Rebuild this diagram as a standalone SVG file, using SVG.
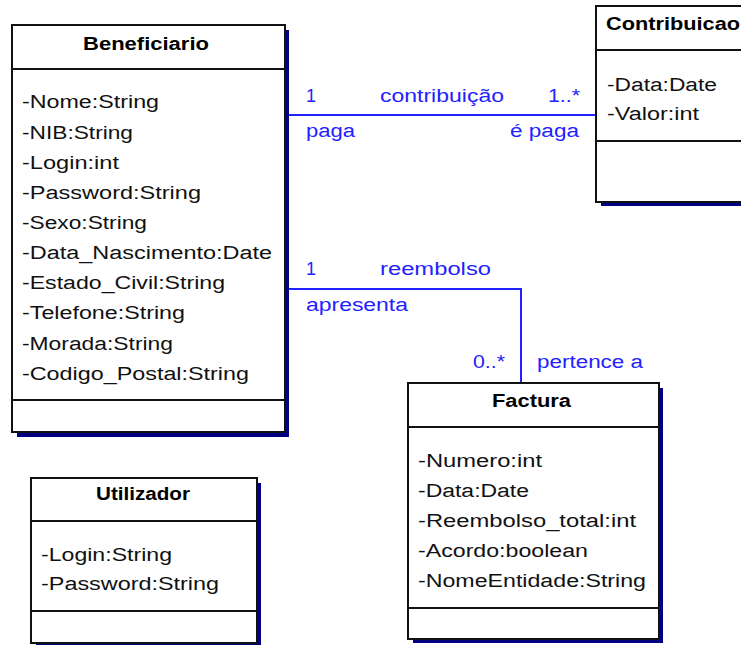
<svg xmlns="http://www.w3.org/2000/svg" width="741" height="645" viewBox="0 0 741 645">
<style>
.box{fill:#fff;stroke:#111;stroke-width:2}
.shadow{fill:#000080}
.div{stroke:#111;stroke-width:2}
.title{font-family:"Liberation Sans",Arial,sans-serif;font-weight:bold;font-size:18px;fill:#000}
.attr{font-family:"Liberation Sans",Arial,sans-serif;font-size:18px;fill:#111}
.lbl{font-family:"Liberation Sans",Arial,sans-serif;font-size:18px;fill:#2222ff}
.conn{fill:none;stroke:#2222ff;stroke-width:2}
</style>
<rect width="741" height="645" fill="#fff"/>
<g id="connectors">
<path class="conn" d="M285 115 H596"/>
<path class="conn" d="M285 289 H521 V383"/>
<text class="lbl" x="306" y="102">1</text>
<text class="lbl" x="380" y="102" textLength="124" lengthAdjust="spacingAndGlyphs">contribuição</text>
<text class="lbl" x="548" y="102" textLength="32" lengthAdjust="spacingAndGlyphs">1..*</text>
<text class="lbl" x="306" y="137" textLength="49" lengthAdjust="spacingAndGlyphs">paga</text>
<text class="lbl" x="510" y="137" textLength="69" lengthAdjust="spacingAndGlyphs">é paga</text>
<text class="lbl" x="306" y="275">1</text>
<text class="lbl" x="380" y="275" textLength="111" lengthAdjust="spacingAndGlyphs">reembolso</text>
<text class="lbl" x="306" y="311" textLength="102" lengthAdjust="spacingAndGlyphs">apresenta</text>
<text class="lbl" x="473" y="368" textLength="32" lengthAdjust="spacingAndGlyphs">0..*</text>
<text class="lbl" x="537" y="368" textLength="106" lengthAdjust="spacingAndGlyphs">pertence a</text>
</g>
<g id="Beneficiario">
<rect class="shadow" x="17" y="30" width="272" height="407"/>
<rect class="box" x="12" y="25" width="273" height="407"/>
<line class="div" x1="12" y1="69" x2="285" y2="69"/>
<line class="div" x1="12" y1="400" x2="285" y2="400"/>
<text class="title" x="83" y="50" textLength="126" lengthAdjust="spacingAndGlyphs">Beneficiario</text>
<text class="attr" x="22" y="108" textLength="137" lengthAdjust="spacingAndGlyphs">-Nome:String</text>
<text class="attr" x="22" y="139" textLength="111" lengthAdjust="spacingAndGlyphs">-NIB:String</text>
<text class="attr" x="22" y="169" textLength="97" lengthAdjust="spacingAndGlyphs">-Login:int</text>
<text class="attr" x="22" y="199" textLength="179" lengthAdjust="spacingAndGlyphs">-Password:String</text>
<text class="attr" x="22" y="229" textLength="125" lengthAdjust="spacingAndGlyphs">-Sexo:String</text>
<text class="attr" x="22" y="259" textLength="250" lengthAdjust="spacingAndGlyphs">-Data_Nascimento:Date</text>
<text class="attr" x="22" y="289" textLength="203" lengthAdjust="spacingAndGlyphs">-Estado_Civil:String</text>
<text class="attr" x="22" y="319" textLength="163" lengthAdjust="spacingAndGlyphs">-Telefone:String</text>
<text class="attr" x="22" y="350" textLength="151" lengthAdjust="spacingAndGlyphs">-Morada:String</text>
<text class="attr" x="22" y="380" textLength="227" lengthAdjust="spacingAndGlyphs">-Codigo_Postal:String</text>
</g>
<g id="Contribuicao">
<rect class="shadow" x="601" y="11" width="150" height="195"/>
<rect class="box" x="596" y="6" width="155" height="196"/>
<line class="div" x1="596" y1="50" x2="751" y2="50"/>
<line class="div" x1="596" y1="141" x2="751" y2="141"/>
<text class="title" x="606" y="30" textLength="134" lengthAdjust="spacingAndGlyphs">Contribuicao</text>
<text class="attr" x="607" y="91" textLength="110" lengthAdjust="spacingAndGlyphs">-Data:Date</text>
<text class="attr" x="607" y="120" textLength="92" lengthAdjust="spacingAndGlyphs">-Valor:int</text>
</g>
<g id="Factura">
<rect class="shadow" x="413" y="388" width="250" height="255"/>
<rect class="box" x="408" y="383" width="251" height="256"/>
<line class="div" x1="408" y1="427" x2="659" y2="427"/>
<line class="div" x1="408" y1="608" x2="659" y2="608"/>
<text class="title" x="492" y="407" textLength="79" lengthAdjust="spacingAndGlyphs">Factura</text>
<text class="attr" x="418" y="467" textLength="124" lengthAdjust="spacingAndGlyphs">-Numero:int</text>
<text class="attr" x="418" y="497" textLength="111" lengthAdjust="spacingAndGlyphs">-Data:Date</text>
<text class="attr" x="418" y="527" textLength="218" lengthAdjust="spacingAndGlyphs">-Reembolso_total:int</text>
<text class="attr" x="418" y="557" textLength="170" lengthAdjust="spacingAndGlyphs">-Acordo:boolean</text>
<text class="attr" x="418" y="587" textLength="228" lengthAdjust="spacingAndGlyphs">-NomeEntidade:String</text>
</g>
<g id="Utilizador">
<rect class="shadow" x="36" y="483" width="225" height="166"/>
<rect class="box" x="31" y="478" width="226" height="165"/>
<line class="div" x1="31" y1="521" x2="257" y2="521"/>
<line class="div" x1="31" y1="611" x2="257" y2="611"/>
<text class="title" x="96" y="500" textLength="94" lengthAdjust="spacingAndGlyphs">Utilizador</text>
<text class="attr" x="41" y="561" textLength="131" lengthAdjust="spacingAndGlyphs">-Login:String</text>
<text class="attr" x="41" y="590" textLength="178" lengthAdjust="spacingAndGlyphs">-Password:String</text>
</g>
</svg>
